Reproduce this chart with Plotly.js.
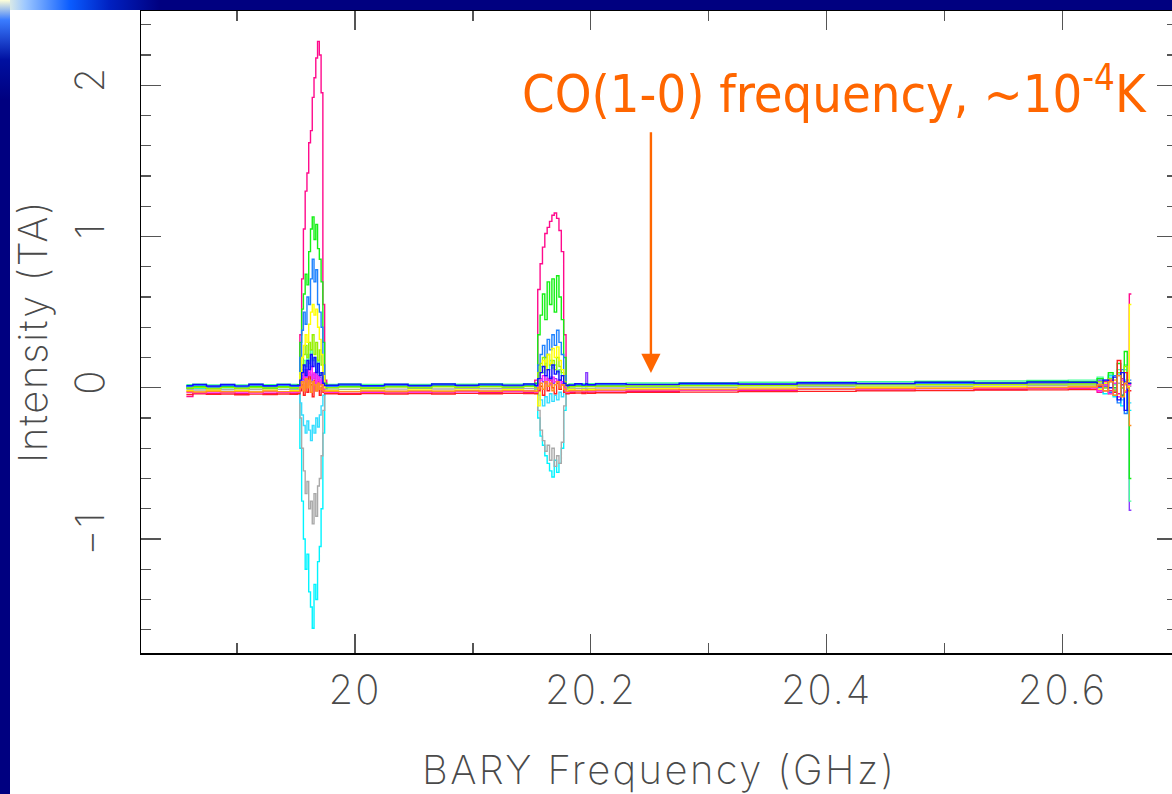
<!DOCTYPE html>
<html>
<head>
<meta charset="utf-8">
<script src="https://cdn.plot.ly/plotly-3.0.1.min.js"></script>
<style>
  html, body { margin: 0; padding: 0; width: 1172px; height: 794px; overflow: hidden; background: #ffffff; }
  #topband { position: absolute; left: 0; top: 0; width: 1172px; height: 10px; z-index: 5;
    background: linear-gradient(to right, #ffffd8 0px, #9ec8ff 25px, #0a5cff 70px, #0020c0 110px, #000080 160px, #000080 100%); }
  #leftband { position: absolute; left: 0; top: 0; width: 10px; height: 794px; z-index: 5;
    background: linear-gradient(to bottom, #ffffd8 0px, #3a7cff 20px, #0010a0 60px, #000080 100px, #000080 100%); }
  #chart { position: absolute; left: 0; top: 0; }
  g.annotation[data-index="0"] text { letter-spacing: 1.7px; }
  g.annotation[data-index="1"] text { letter-spacing: 2.4px; }
  .xtick text, .ytick text { letter-spacing: 2px; }
</style>
</head>
<body>
<div id="chart"></div>
<div id="topband"></div>
<div id="leftband"></div>
<script>
// ---- frequency grids (GHz) ----
const freqBaseA = [19.857, 19.868, 19.880, 19.892, 19.904, 19.916, 19.928, 19.940, 19.950];
const freqPeak1 = [19.9525, 19.954, 19.9555, 19.957, 19.9585, 19.960, 19.9615, 19.963, 19.9645, 19.966, 19.9675, 19.969, 19.9705, 19.972, 19.9735, 19.975];
const freqBaseB = [19.977, 19.995, 20.015, 20.035, 20.055, 20.075, 20.095, 20.115, 20.135, 20.151];
const freqPeak2 = [20.154, 20.156, 20.158, 20.160, 20.162, 20.164, 20.166, 20.168, 20.170, 20.172, 20.174, 20.176, 20.178, 20.180];
const freqBaseC = [20.183, 20.190, 20.195, 20.1965, 20.198, 20.21, 20.25, 20.30, 20.35, 20.40, 20.45, 20.50, 20.55, 20.59, 20.62];
const freqEnd   = [20.627, 20.632, 20.637, 20.641, 20.645, 20.648, 20.651, 20.654, 20.656, 20.6575, 20.6585];

// ---- intensity (TA) per spectrum: baseline (A|B|C), peak 1, peak 2, band edge ----
const pinkBase = [-0.058,-0.034,-0.040,-0.030,-0.039,-0.031,-0.037,-0.029,-0.036,
  -0.028,-0.037,-0.027,-0.035,-0.025,-0.034,-0.024,-0.033,-0.023,-0.030,
  -0.030,-0.022,-0.031,-0.021,-0.029,-0.020,-0.024,-0.015,-0.020,-0.011,-0.016,-0.006,-0.012,-0.003,-0.006];
const pinkP1 = [0.02,0.35,0.72,1.05,1.30,1.42,1.62,1.70,1.92,2.05,2.18,2.29,2.20,1.95,0.55,0.05];
const pinkP2 = [0.05,0.65,0.82,0.93,1.02,1.06,1.10,1.14,1.155,1.12,1.04,0.90,0.35,0.02];
const pinkEnd = [0.0,-0.03,0.04,-0.02,0.05,-0.04,0.06,-0.02,0.0,0.62,0.62];

const cyanBase = [0.002,-0.003,0.004,0.0,0.005,0.001,0.006,0.002,0.0,
  0.004,0.008,0.005,0.009,0.006,0.010,0.008,0.012,0.009,0.011,
  0.010,0.012,0.011,0.013,0.012,0.014,0.015,0.017,0.019,0.021,0.023,0.025,0.027,0.029,0.031];
const cyanP1 = [0.0,-0.40,-0.75,-1.00,-1.20,-1.10,-1.35,-1.45,-1.59,-1.30,-1.40,-1.15,-1.05,-0.80,-0.30,0.0];
const cyanP2 = [0.0,-0.20,-0.32,-0.38,-0.45,-0.50,-0.55,-0.59,-0.48,-0.56,-0.50,-0.40,-0.15,0.0];
const cyanEnd = [0.03,0.06,-0.04,0.08,-0.06,0.10,-0.12,0.05,-0.15,-0.15,-0.15];

const grayBase = [-0.012,-0.015,-0.010,-0.013,-0.009,-0.012,-0.008,-0.011,-0.010,
  -0.009,-0.011,-0.007,-0.009,-0.006,-0.008,-0.005,-0.007,-0.004,-0.006,
  -0.005,-0.004,-0.006,-0.003,-0.004,-0.002,0.0,0.002,0.004,0.006,0.008,0.010,0.012,0.014,0.015];
const grayP1 = [-0.01,-0.20,-0.40,-0.55,-0.70,-0.62,-0.80,-0.75,-0.90,-0.70,-0.85,-0.65,-0.60,-0.45,-0.15,-0.01];
const grayP2 = [-0.01,-0.15,-0.28,-0.35,-0.42,-0.38,-0.48,-0.40,-0.52,-0.45,-0.50,-0.36,-0.12,-0.01];
const grayEnd = [0.015,0.03,0.0,0.04,-0.01,0.03,0.0,0.02,0.01,0.01,0.01];

const skyBase = [0.005,0.002,0.007,0.003,0.008,0.004,0.006,0.003,0.005,
  0.006,0.009,0.005,0.010,0.007,0.011,0.008,0.010,0.012,0.009,
  0.011,0.013,0.010,0.012,0.011,0.013,0.014,0.016,0.018,0.019,0.021,0.022,0.024,0.025,0.026];
const skyP1 = [0.0,-0.10,-0.18,-0.25,-0.30,-0.22,-0.28,-0.35,-0.25,-0.30,-0.20,-0.26,-0.18,-0.12,-0.05,0.0];
const skyP2 = [0.0,-0.05,-0.08,-0.12,-0.06,-0.10,-0.04,-0.09,-0.05,-0.08,-0.03,-0.06,-0.02,0.0];
const skyEnd = [0.026,0.05,0.0,0.07,-0.05,0.09,-0.08,0.12,-0.10,-0.10,-0.10];

const violetBase = [0.008,0.012,0.006,0.010,0.007,0.011,0.008,0.012,0.009,
  0.010,0.013,0.009,0.012,0.010,0.014,0.011,0.013,0.015,0.012,
  0.013,0.015,0.014,0.10,0.015,0.016,0.017,0.019,0.021,0.022,0.024,0.026,0.027,0.029,0.030];
const violetP1 = [0.005,0.03,0.08,0.05,0.12,0.07,0.10,0.04,0.09,0.06,0.11,0.05,0.07,0.03,0.01,0.005];
const violetP2 = [0.005,0.03,0.06,0.04,0.08,0.05,0.07,0.03,0.06,0.04,0.05,0.03,0.01,0.005];
const violetEnd = [0.03,0.05,0.01,0.06,-0.02,0.08,-0.05,0.04,0.02,-0.81,-0.81];

const springBase = [0.020,0.024,0.018,0.022,0.019,0.023,0.020,0.024,0.021,
  0.022,0.025,0.021,0.024,0.022,0.026,0.023,0.027,0.024,0.026,
  0.025,0.027,0.026,0.028,0.027,0.029,0.031,0.033,0.036,0.038,0.040,0.043,0.045,0.048,0.050];
const springP1 = [0.02,0.06,0.12,0.18,0.14,0.22,0.16,0.25,0.18,0.20,0.12,0.18,0.10,0.08,0.04,0.02];
const springP2 = [0.02,0.08,0.14,0.10,0.16,0.12,0.18,0.13,0.15,0.10,0.12,0.08,0.04,0.02];
const springEnd = [0.05,0.07,0.03,0.09,0.02,0.12,0.0,0.15,0.05,-0.75,-0.75];

const greenBase = [-0.003,0.007,-0.005,0.006,-0.003,0.008,-0.002,0.007,0.0,
  0.001,0.010,0.0,0.011,0.002,0.012,0.003,0.013,0.005,0.014,
  0.007,0.015,0.008,0.016,0.009,0.018,0.014,0.024,0.019,0.030,0.025,0.036,0.031,0.042,0.040];
const greenP1 = [0.02,0.30,0.52,0.62,0.75,0.68,0.90,1.05,1.13,0.98,1.08,0.92,0.85,0.70,0.30,0.03];
const greenP2 = [0.03,0.35,0.48,0.62,0.45,0.70,0.55,0.72,0.50,0.74,0.60,0.45,0.20,0.02];
const greenEnd = [0.04,0.06,0.02,0.10,0.0,0.16,-0.05,0.24,0.02,-0.60,-0.60];

const azureBase = [0.008,0.016,0.005,0.015,0.006,0.017,0.007,0.016,0.009,
  0.010,0.018,0.008,0.017,0.009,0.019,0.010,0.018,0.011,0.019,
  0.012,0.020,0.013,0.021,0.014,0.020,0.016,0.024,0.019,0.027,0.022,0.030,0.025,0.032,0.030];
const azureP1 = [0.01,0.20,0.38,0.50,0.42,0.60,0.55,0.72,0.85,0.70,0.78,0.55,0.50,0.40,0.15,0.0];
const azureP2 = [0.01,0.15,0.22,0.28,0.20,0.32,0.25,0.35,0.28,0.38,0.30,0.22,0.08,0.01];
const azureEnd = [0.03,0.0,0.05,-0.03,0.08,-0.10,0.12,-0.17,0.05,0.05,0.05];

const limeBase = [-0.002,0.002,-0.004,0.001,-0.003,0.002,-0.001,0.003,0.000,
  0.001,0.004,0.000,0.005,0.002,0.006,0.003,0.006,0.004,0.007,
  0.006,0.008,0.007,0.009,0.008,0.010,0.011,0.013,0.015,0.017,0.019,0.020,0.022,0.024,0.025];
const limeP1 = [0.0,0.08,0.15,0.22,0.28,0.20,0.30,0.25,0.35,0.22,0.30,0.18,0.25,0.15,0.05,0.0];
const limeP2 = [0.0,0.10,0.16,0.20,0.14,0.22,0.15,0.18,0.12,0.20,0.14,0.10,0.04,0.0];
const limeEnd = [0.025,0.04,0.0,0.06,-0.02,0.10,0.0,0.14,0.03,0.03,0.03];

const yellowBase = [-0.019,-0.029,-0.017,-0.027,-0.018,-0.028,-0.016,-0.026,-0.020,
  -0.018,-0.024,-0.016,-0.023,-0.015,-0.022,-0.014,-0.021,-0.013,-0.019,
  -0.012,-0.018,-0.013,-0.017,-0.011,-0.015,-0.006,-0.011,-0.001,-0.006,0.003,-0.002,0.007,0.002,0.008];
const yellowP1 = [-0.02,0.10,0.20,0.28,0.35,0.30,0.42,0.50,0.55,0.48,0.52,0.40,0.32,0.22,0.08,-0.02];
const yellowP2 = [-0.02,-0.12,0.10,0.18,0.12,0.22,0.16,0.26,0.20,0.27,0.18,0.12,0.03,-0.02];
const yellowEnd = [0.008,-0.01,0.03,-0.04,0.05,-0.06,0.04,-0.02,0.01,0.55,0.55];

const redBase = [-0.045,-0.040,-0.044,-0.041,-0.046,-0.042,-0.045,-0.041,-0.043,
  -0.040,-0.043,-0.039,-0.042,-0.038,-0.041,-0.037,-0.040,-0.036,-0.039,
  -0.037,-0.035,-0.038,-0.034,-0.036,-0.033,-0.031,-0.029,-0.026,-0.024,-0.021,-0.019,-0.016,-0.014,-0.012];
const redP1 = [-0.04,-0.02,0.02,-0.05,0.06,-0.03,0.08,0.02,-0.06,0.05,-0.02,0.04,-0.05,0.0,-0.03,-0.04];
const redP2 = [-0.04,-0.02,0.01,-0.05,0.03,-0.02,0.05,0.0,-0.04,0.03,-0.01,0.02,-0.03,-0.04];
const redEnd = [-0.012,0.01,-0.02,0.05,-0.03,0.18,0.02,0.10,-0.02,-0.02,-0.02];

const magentaBase = [-0.030,-0.034,-0.028,-0.032,-0.029,-0.033,-0.027,-0.031,-0.028,
  -0.029,-0.026,-0.030,-0.025,-0.028,-0.024,-0.027,-0.023,-0.026,-0.022,
  -0.023,-0.021,-0.024,-0.020,-0.022,-0.019,-0.017,-0.015,-0.012,-0.010,-0.008,-0.006,-0.004,-0.002,0.000];
const magentaP1 = [-0.03,0.02,0.06,0.10,0.04,0.12,0.08,0.14,0.06,0.10,0.03,0.08,0.02,0.05,-0.01,-0.03];
const magentaP2 = [-0.03,0.02,0.05,0.08,0.03,0.06,0.02,0.07,0.04,0.05,0.01,0.04,0.0,-0.03];
const magentaEnd = [0.0,-0.02,0.02,-0.04,0.03,-0.06,0.05,-0.03,0.02,0.02,0.02];

const blueBase = [0.014,0.022,0.011,0.021,0.012,0.023,0.013,0.022,0.015,
  0.016,0.024,0.014,0.023,0.015,0.025,0.016,0.024,0.017,0.025,
  0.018,0.026,0.019,0.027,0.020,0.027,0.022,0.030,0.025,0.033,0.028,0.036,0.031,0.038,0.036];
const blueP1 = [0.015,0.05,0.10,0.15,0.08,0.18,0.12,0.22,0.14,0.20,0.10,0.16,0.08,0.10,0.03,0.015];
const blueP2 = [0.015,0.06,0.10,0.14,0.08,0.12,0.06,0.15,0.09,0.11,0.05,0.08,0.03,0.015];
const blueEnd = [0.036,0.02,0.05,0.0,0.07,-0.08,0.10,-0.15,0.03,0.03,0.03];

const orangeBase = [-0.025,-0.028,-0.023,-0.027,-0.024,-0.028,-0.022,-0.026,-0.024,
  -0.023,-0.026,-0.022,-0.025,-0.021,-0.024,-0.020,-0.023,-0.019,-0.022,
  -0.020,-0.018,-0.021,-0.017,-0.019,-0.016,-0.014,-0.012,-0.009,-0.007,-0.005,-0.003,-0.001,0.002,0.005];
const orangeP1 = [-0.025,0.0,0.04,-0.02,0.06,0.0,0.05,-0.03,0.04,0.02,-0.02,0.03,-0.01,0.02,-0.02,-0.025];
const orangeP2 = [-0.025,0.0,0.03,-0.01,0.04,0.01,0.03,-0.02,0.02,0.04,0.0,0.02,-0.01,-0.025];
const orangeEnd = [0.005,0.02,-0.02,0.04,-0.05,0.08,-0.06,0.03,0.0,-0.25,-0.25];

// ---- tick values ----
const xTickVals = [20.0, 20.2, 20.4, 20.6];
const xTickText = ["20", "20.2", "20.4", "20.6"];
const yTickVals = [-1, 0, 1, 2];
const yTickText = ["\u22121", "0", "1", "2"];

// ---- build spectra ----
const allFreq = [].concat(freqBaseA, freqPeak1, freqBaseB, freqPeak2, freqBaseC, freqEnd);
function spectrum(base, p1, p2, end, color) {
  const nA = freqBaseA.length, nB = freqBaseB.length;
  const y = [].concat(base.slice(0, nA), p1, base.slice(nA, nA + nB), p2, base.slice(nA + nB), end);
  return { type: 'scatter', mode: 'lines', x: allFreq, y: y, hoverinfo: 'skip', showlegend: false,
           line: { color: color, width: 1.4, shape: 'hvh' } };
}
const traces = [
  spectrum(pinkBase, pinkP1, pinkP2, pinkEnd, '#ff0a8c'),
  spectrum(cyanBase, cyanP1, cyanP2, cyanEnd, '#00f4ff'),
  spectrum(grayBase, grayP1, grayP2, grayEnd, '#a9a9a9'),
  spectrum(skyBase, skyP1, skyP2, skyEnd, '#33ddff'),
  spectrum(violetBase, violetP1, violetP2, violetEnd, '#8a3cff'),
  spectrum(springBase, springP1, springP2, springEnd, '#44ff99'),
  spectrum(greenBase, greenP1, greenP2, greenEnd, '#14f014'),
  spectrum(azureBase, azureP1, azureP2, azureEnd, '#1e82ff'),
  spectrum(limeBase, limeP1, limeP2, limeEnd, '#96f000'),
  spectrum(yellowBase, yellowP1, yellowP2, yellowEnd, '#ffff00'),
  spectrum(redBase, redP1, redP2, redEnd, '#ff2020'),
  spectrum(magentaBase, magentaP1, magentaP2, magentaEnd, '#ff22ee'),
  spectrum(blueBase, blueP1, blueP2, blueEnd, '#1010ff'),
  spectrum(orangeBase, orangeP1, orangeP2, orangeEnd, '#ff9020')
];

const tickFont = { family: 'Inter, DejaVu Sans, sans-serif', size: 40, color: '#4a4a4a', weight: 200 };
const axisCommon = {
  showgrid: false, zeroline: false, showline: true, linecolor: '#000', linewidth: 1.5,
  mirror: 'allticks', ticks: 'inside', tickcolor: '#555', tickwidth: 1.3, tickfont: tickFont
};

const layout = {
  width: 1180, height: 794,
  margin: { l: 141, r: 3, t: 11, b: 141 },
  paper_bgcolor: '#ffffff', plot_bgcolor: '#ffffff',
  xaxis: Object.assign({}, axisCommon, {
    range: [19.8185, 20.6972], tickmode: 'array', tickvals: xTickVals, ticktext: xTickText,
    ticklen: 19, ticklabelstandoff: 1,
    minor: { dtick: 0.1, tick0: 0, ticks: 'inside', ticklen: 10, tickcolor: '#555', tickwidth: 1.3 }
  }),
  yaxis: Object.assign({}, axisCommon, {
    range: [-1.754, 2.491], tickmode: 'array', tickvals: yTickVals, ticktext: yTickText,
    ticklen: 20, tickangle: -90, ticklabelstandoff: 20,
    minor: { dtick: 0.2, tick0: 0, ticks: 'inside', ticklen: 10, tickcolor: '#555', tickwidth: 1.3 }
  }),
  annotations: [
    { xref: 'paper', yref: 'paper', x: 0, y: 0.5, xanchor: 'center', yanchor: 'middle', xshift: -109,
      textangle: -90, showarrow: false, text: 'Intensity (TA)',
      font: { family: 'Inter, DejaVu Sans, sans-serif', size: 40, color: '#4a4a4a', weight: 200 } },
    { xref: 'paper', yref: 'paper', x: 0.5, y: 0, xanchor: 'center', yanchor: 'middle', yshift: -116,
      showarrow: false, text: 'BARY Frequency (GHz)',
      font: { family: 'Inter, DejaVu Sans, sans-serif', size: 40, color: '#4a4a4a', weight: 200 } },
    { xref: 'x', yref: 'y', x: 20.251, y: 0.097, ax: 20.251, ay: 1.70, axref: 'x', ayref: 'y',
      text: '', showarrow: true, arrowhead: 2, arrowsize: 1.6, arrowwidth: 2.4, arrowcolor: '#ff6600', standoff: 0 },
    { xref: 'x', yref: 'y', x: 20.1396, y: 1.969, xanchor: 'left', yanchor: 'middle', showarrow: false,
      text: 'CO(1-0) frequency, ~10<sup>-4</sup>K',
      font: { family: 'DejaVu Sans Condensed, DejaVu Sans, sans-serif', size: 52, color: '#ff6600' } }
  ]
};

Plotly.newPlot('chart', traces, layout, { staticPlot: true, displayModeBar: false });
</script>
</body>
</html>
